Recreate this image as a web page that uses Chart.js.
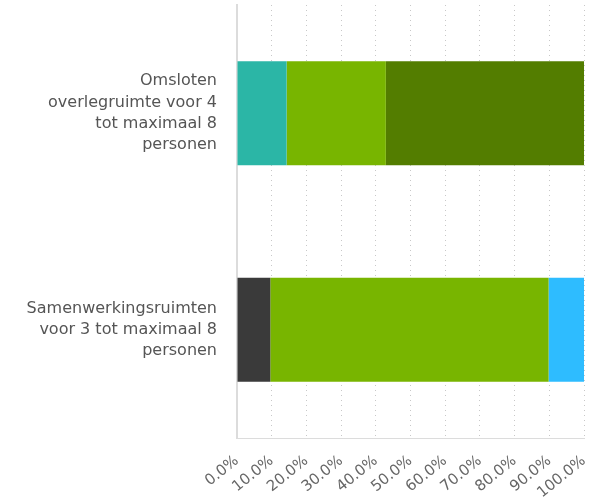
<!DOCTYPE html>
<html>
<head>
<meta charset="utf-8">
<script src="https://cdn.jsdelivr.net/npm/chart.js@4/dist/chart.umd.min.js"></script>
<style>
  html, body { margin: 0; padding: 0; background: #fff; }
  #wrap { width: 606px; height: 502px; }
</style>
</head>
<body>
<div id="wrap"><canvas id="chart" width="606" height="502"></canvas></div>
<script>
// categories (multi-line labels)
const categories = [
    ["Omsloten", "overlegruimte voor 4", "tot maximaal 8", "personen"],
    ["Samenwerkingsruimten", "voor 3 tot maximaal 8", "personen"]
];

// series values, in percent
const seriesTeal = [14.3, 0];
const seriesDark = [0, 9.6];
const seriesGreen = [28.6, 80.2];
const seriesDarkGreen = [57.1, 0];
const seriesBlue = [0, 10.2];

const tickValues = [0, 10, 20, 30, 40, 50, 60, 70, 80, 90, 100];

function series(label, data, color) {
    return {
        label: label,
        data: data,
        backgroundColor: color,
        borderWidth: 0,
        barPercentage: 0.8,
        categoryPercentage: 0.6
    };
}

new Chart(document.getElementById("chart"), {
    type: "bar",
    data: {
        labels: categories,
        datasets: [
            series("teal", seriesTeal, "#2bb6a6"),
            series("dark", seriesDark, "#3a3a3a"),
            series("green", seriesGreen, "#78b500"),
            series("darkgreen", seriesDarkGreen, "#537d00"),
            series("blue", seriesBlue, "#2ebcff")
        ]
    },
    options: {
        indexAxis: "y",
        responsive: false,
        animation: false,
        layout: { padding: { top: 5, right: 22, left: 0, bottom: 0 } },
        plugins: { legend: { display: false }, tooltip: { enabled: false } },
        scales: {
            x: {
                stacked: true,
                min: 0,
                max: 100,
                afterBuildTicks: function (scale) {
                    scale.ticks = tickValues.map(v => ({ value: v }));
                },
                afterFit: function (scale) {
                    scale.height = 64;
                    scale.paddingLeft = 0;
                    scale.paddingRight = 0;
                },
                grid: {
                    color: "#c8c8c8",
                    lineWidth: 1,
                    drawTicks: false
                },
                border: { display: true, color: "#dcdcdc", dash: [1, 4] },
                ticks: {
                    color: "#666",
                    font: { family: "'DejaVu Sans', sans-serif", size: 15 },
                    minRotation: 39,
                    maxRotation: 39,
                    padding: 14,
                    callback: v => v.toFixed(1) + "%"
                }
            },
            y: {
                stacked: true,
                afterFit: function (scale) {
                    scale.width = 237;
                    scale.paddingTop = 0;
                    scale.paddingBottom = 0;
                },
                grid: { display: false, drawTicks: false },
                border: { display: true, color: "#dcdcdc", width: 2 },
                ticks: {
                    color: "#555",
                    font: { family: "'DejaVu Sans', sans-serif", size: 16, lineHeight: 1.33 },
                    padding: 20
                }
            }
        }
    }
});
</script>
</body>
</html>
